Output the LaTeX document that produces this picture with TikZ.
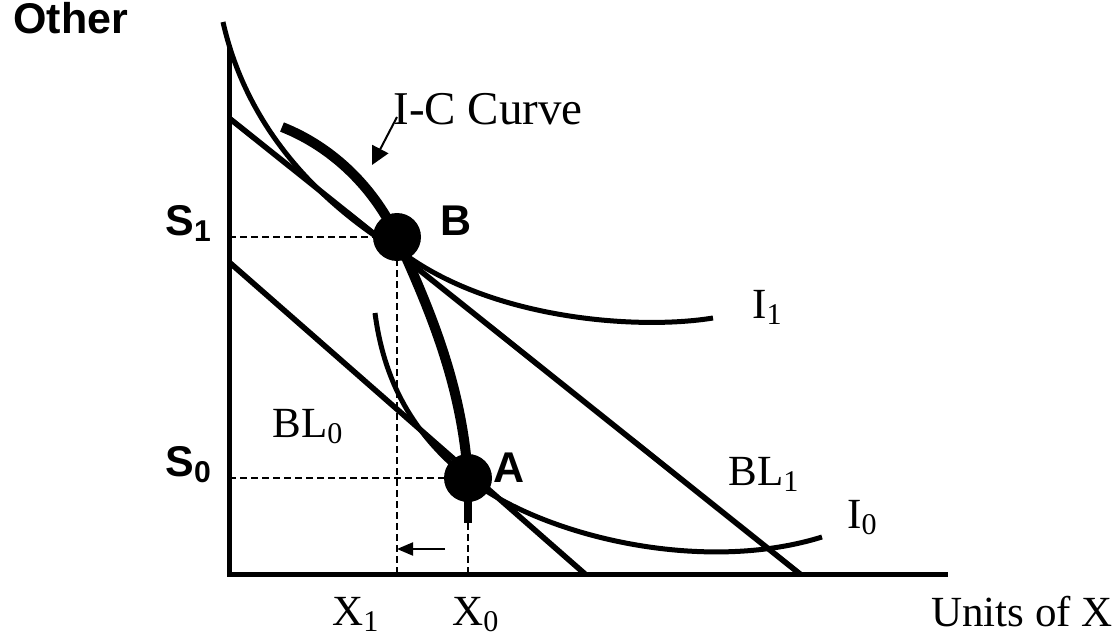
\documentclass[tikz,border=0pt]{standalone}
\usepackage{fontspec}
\setmainfont{Liberation Serif}
\setsansfont{Liberation Sans}
\usetikzlibrary{arrows.meta}

\begin{document}
\begin{tikzpicture}[
    x=0.5pt, y=-0.5pt,
    axis/.style={line width=2.5pt},
    budget/.style={line width=2.8pt},
    indiff/.style={line width=2.5pt},
    iccurve/.style={line width=5pt},
    guide/.style={line width=0.6pt, dash pattern=on 3.5pt off 2pt},
    dot/.style={circle, fill=black, minimum size=24pt, inner sep=0pt},
    lab/.style={inner sep=0pt, anchor=base west, font=\fontsize{21.5}{26}\selectfont},
    blab/.style={inner sep=0pt, anchor=base west, font=\fontsize{21.5}{25}\selectfont\sffamily\bfseries},
    pointer/.style={line width=1pt, -{Triangle[length=9pt,width=9pt]}},
    moveleft/.style={line width=1pt, -{Triangle[length=8pt,width=6.5pt]}}
]
\useasboundingbox (0,0) rectangle (1116,637);

% axes
\coordinate (O) at (229,574);
\coordinate (ytop) at (229,45);
\coordinate (xend) at (948,574);
\draw[axis] (ytop) -- (O) -- (xend);

% budget lines
\coordinate (bl1top) at (229,118);
\coordinate (bl1bot) at (800,574);
\coordinate (bl0top) at (229,262);
\coordinate (bl0bot) at (585,574);

% equilibrium points
\node[dot] (ptB) at (397,237) {};
\node[dot] (ptA) at (468,478) {};

% guides to the axes
\coordinate (s1) at (229,237);
\coordinate (s0) at (229,478);
\coordinate (x1) at (397,574);
\coordinate (x0) at (468,574);
\coordinate (stub) at (468,523);
\draw[guide] (s1) -- (ptB.center);
\draw[guide] (ptB.center) -- (x1);
\draw[guide] (s0) -- (ptA.center);
\draw[guide] (stub) -- (x0);

\draw[budget] (bl1top) -- (bl1bot);
\draw[budget] (bl0top) -- (bl0bot);

% indifference curves
\draw[indiff] (223,22) .. controls (245,120) and (310,200) .. (410,258)
    .. controls (500,320) and (640,330) .. (713,318);
\draw[indiff] (375,313) .. controls (385,390) and (420,440) .. (ptA.center)
    .. controls (540,535) and (700,575) .. (822,537);

% income-consumption curve
\draw[iccurve] (282,127) .. controls (335,148) and (375,190) .. (ptB.center)
    .. controls (425,300) and (462,380) .. (ptA.center);
\draw[line width=4pt] (ptA.center) -- (stub);

% pointers
\coordinate (icTail) at (397,117);
\coordinate (icTip) at (372,165);
\draw[pointer] (icTail) -- (icTip);
\coordinate (shTail) at (445,549);
\coordinate (shTip) at (397,549);
\draw[moveleft] (shTail) -- (shTip);

% labels
\node[blab] (other) at (13,33) {Other};
\node[blab] (labS1) at (165,235) {S\textsubscript{1}};
\node[blab] (labS0) at (165,476) {S\textsubscript{0}};
\node[blab] (labB) at (440,235) {B};
\node[blab] (labA) at (493,482) {A};
\node[lab, font=\fontsize{23.5}{28}\selectfont] (labIC) at (393,125) {I-C Curve};
\node[lab] (labI1) at (752,318) {I\textsubscript{1}};
\node[lab] (labI0) at (847,528) {I\textsubscript{0}};
\node[lab] (labBL1) at (728,485) {BL\textsubscript{1}};
\node[lab] (labBL0) at (272,437) {BL\textsubscript{0}};
\node[lab] (labX1) at (332,625) {X\textsubscript{1}};
\node[lab] (labX0) at (452,625) {X\textsubscript{0}};
\node[lab] (units) at (931,626) {Units of X};

\end{tikzpicture}
\end{document}
